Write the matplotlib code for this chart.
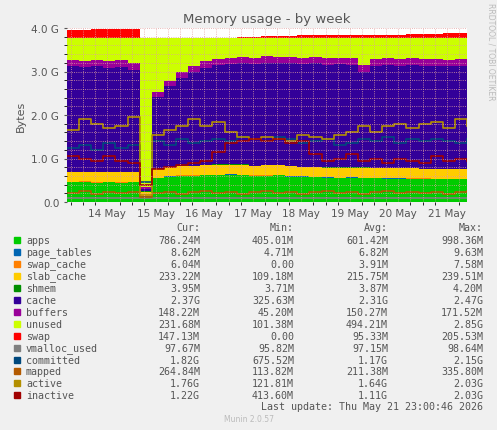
import matplotlib
matplotlib.use("Agg")
import matplotlib.pyplot as plt
import numpy as np
import matplotlib.dates as mdates
import datetime as dt

start = dt.datetime(2026, 5, 13, 16)
times = [start + dt.timedelta(hours=6 * i) for i in range(34)]

apps = [0.45,0.46,0.44,0.45,0.44,0.45,0.12,0.55,0.58,0.60,0.60,0.62,0.62,0.63,0.62,0.60,0.60,0.61,0.58,0.58,0.57,0.56,0.55,0.56,0.55,0.55,0.54,0.54,0.53,0.53,0.52,0.52,0.52,0.52]
page_tables = [0.008]*34
swap_cache = [0.005]*6 + [0.0] + [0.004]*27
slab_cache = [0.23,0.22,0.23,0.22,0.23,0.22,0.11,0.20,0.21,0.22,0.22,0.22,0.23,0.22,0.23,0.22,0.23,0.22,0.23,0.22,0.23,0.22,0.23,0.22,0.23,0.22,0.23,0.22,0.23,0.22,0.23,0.22,0.23,0.23]
shmem = [0.004]*34
cache = [2.42,2.40,2.43,2.40,2.42,2.35,0.05,1.65,1.85,2.02,2.15,2.23,2.28,2.30,2.32,2.33,2.35,2.34,2.36,2.35,2.37,2.36,2.37,2.36,2.20,2.35,2.37,2.36,2.38,2.36,2.37,2.36,2.37,2.36]
buffers = [0.15,0.15,0.15,0.15,0.15,0.15,0.05,0.12,0.13,0.14,0.15,0.15,0.15,0.15,0.15,0.15,0.15,0.15,0.15,0.15,0.15,0.15,0.15,0.15,0.15,0.15,0.15,0.15,0.15,0.15,0.15,0.15,0.15,0.15]
total_ram = 3.76
swap = [0.20,0.20,0.21,0.22,0.22,0.22,0.01,0.01,0.01,0.01,0.02,0.02,0.02,0.02,0.03,0.04,0.05,0.06,0.06,0.07,0.07,0.08,0.08,0.08,0.08,0.08,0.09,0.09,0.10,0.10,0.11,0.12,0.12,0.12]
vmalloc_used = [0.098]*34
committed = [1.25,1.30,1.20,1.35,1.25,1.30,0.45,1.40,1.30,1.45,1.35,1.40,1.45,1.40,1.50,1.45,1.40,1.50,1.45,1.35,1.40,1.45,1.30,1.35,1.45,1.40,1.50,1.35,1.45,1.40,1.45,1.40,1.35,1.45]
mapped = [0.20,0.25,0.18,0.22,0.20,0.24,0.12,0.20,0.24,0.18,0.22,0.25,0.20,0.23,0.18,0.22,0.25,0.20,0.23,0.18,0.22,0.25,0.20,0.23,0.18,0.22,0.25,0.20,0.23,0.20,0.24,0.19,0.22,0.26]
active = [1.65,1.90,1.80,1.70,1.75,1.95,0.15,1.55,1.65,1.75,1.90,1.75,1.85,1.60,1.50,1.45,1.50,1.45,1.40,1.55,1.50,1.45,1.55,1.60,1.75,1.60,1.75,1.80,1.70,1.80,1.85,1.70,1.90,1.75]
inactive = [1.05,1.00,0.95,1.05,0.95,0.90,0.40,0.75,0.80,0.85,0.90,0.95,1.15,1.35,1.40,1.45,1.40,1.45,1.35,1.40,1.10,0.95,1.00,1.10,0.95,1.00,0.90,1.00,0.95,0.90,1.05,0.95,1.00,0.95]

names = ["apps","page_tables","swap_cache","slab_cache","shmem","cache","buffers","unused","swap","vmalloc_used","committed","mapped","active","inactive"]
colors = ["#00CC00","#0066B3","#FF8000","#FFCC00","#008F00","#330099","#990099","#CCFF00","#FF0000","#808080","#00487D","#B35A00","#B38F00","#A00000"]
cur = ["786.24M","8.62M","6.04M","233.22M","3.95M","2.37G","148.22M","231.68M","147.13M","97.67M","1.82G","264.84M","1.76G","1.22G"]
mins = ["405.01M","4.71M","0.00","109.18M","3.71M","325.63M","45.20M","101.38M","0.00","95.82M","675.52M","113.82M","121.81M","413.60M"]
avgs = ["601.42M","6.82M","3.91M","215.75M","3.87M","2.31G","150.27M","494.21M","95.33M","97.15M","1.17G","211.38M","1.64G","1.11G"]
maxs = ["998.36M","9.63M","7.58M","239.51M","4.20M","2.47G","171.52M","2.85G","205.53M","98.64M","2.15G","335.80M","2.03G","2.03G"]

used = [sum(v) for v in zip(apps,page_tables,swap_cache,slab_cache,shmem,cache,buffers)]
unused = [total_ram - u for u in used]
stack = [apps,page_tables,swap_cache,slab_cache,shmem,cache,buffers,unused,swap]

fig = plt.figure(figsize=(4.97,4.31), dpi=100, facecolor="#F0F0F0")
ax = fig.add_axes([67/497, 1-203/431, 400/497, 174/431])
ax.set_facecolor("white")
ax.stackplot(times, *stack, colors=colors[:9], step="post", linewidth=0)
for i in range(9, 14):
    ax.step(times, [vmalloc_used,committed,mapped,active,inactive][i-9], where="post", color=colors[i], lw=1.2)
ax.set_ylim(0, 4.0)
ax.set_xlim(times[0], times[-1])
ax.set_yticks([0,1,2,3,4])
ax.set_yticklabels(["0.0","1.0 G","2.0 G","3.0 G","4.0 G"])
ax.xaxis.set_major_locator(mdates.HourLocator(byhour=[12]))
ax.xaxis.set_major_formatter(mdates.DateFormatter("%d %b"))
ax.xaxis.set_minor_locator(mdates.HourLocator(byhour=[0, 6, 18]))
ax.grid(True, which="both", color="#E0A0A0", ls=":", lw=0.6)
ax.yaxis.set_minor_locator(matplotlib.ticker.MultipleLocator(0.2))
ax.set_axisbelow(False)
for s in ax.spines.values():
    s.set_visible(False)
ax.tick_params(labelsize=7.5, colors="#555555", length=2)
ax.tick_params(axis="x", which="major", length=0, pad=4)
ax.set_ylabel("Bytes", fontsize=8, color="#555555")
ax.set_title("Memory usage - by week", fontsize=9.5, color="#555555", pad=4)
fig.text(0.978, 0.88, "RRDTOOL / TOBI OETIKER", rotation=270, fontsize=5.5, color="#BBBBBB", va="center")

mono = "DejaVu Sans Mono"
fs = 7.2
gc = "#555555"
def t(x, y, s, **kw):
    fig.text(x/497, 1-y/431, s, fontsize=fs, family=mono, color=gc, va="center", **kw)
for x, h in zip([200,294,388,483], ["Cur:","Min:","Avg:","Max:"]):
    t(x, 228, h, ha="right")
for i, n in enumerate(names):
    y = 241 + i*11.95
    fig.patches.append(plt.Rectangle((14/497, 1-(y+3)/431), 6/497, 6/431, transform=fig.transFigure, color=colors[i]))
    t(26, y, n)
    for x, v in zip([200,294,388,483], [cur[i],mins[i],avgs[i],maxs[i]]):
        t(x, y, v, ha="right")
t(483, 407, "Last update: Thu May 21 23:00:46 2026", ha="right")
fig.text(0.5, 1-420/431, "Munin 2.0.57", ha="center", va="center", fontsize=5.5, color="#BBBBBB")
fig.savefig("out.png", dpi=100, facecolor=fig.get_facecolor())
